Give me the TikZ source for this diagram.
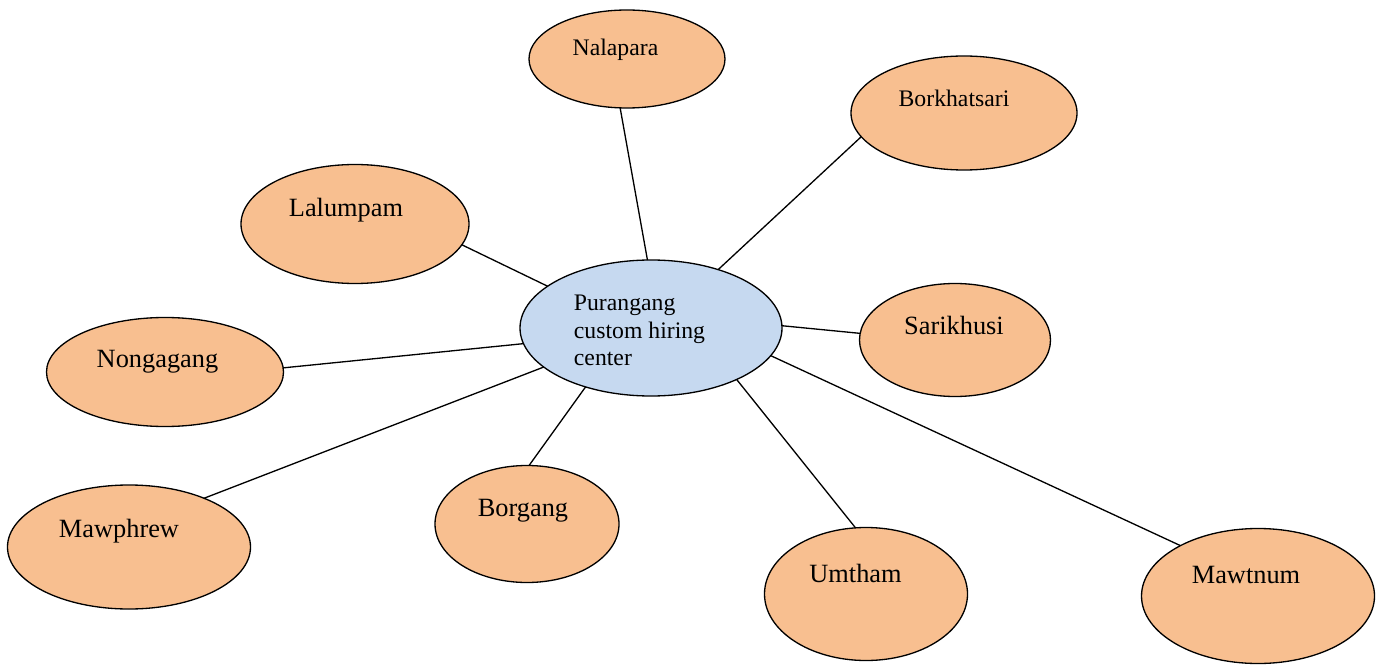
\documentclass[tikz,border=0pt]{standalone}
\usepackage{fontspec}
\setmainfont{Liberation Serif}
\usetikzlibrary{shapes.geometric}
\definecolor{peach}{HTML}{F8BF90}
\definecolor{sky}{HTML}{C6D9F0}
\begin{document}
\begin{tikzpicture}[place/.style={ellipse,draw=black,line width=.75pt,fill=peach,inner sep=0pt,outer sep=0pt},hub/.style={ellipse,draw=black,line width=.75pt,fill=sky,inner sep=0pt,outer sep=0pt,minimum width=5.24cm,minimum height=2.72cm},big/.style={font=\fontsize{15}{18}\selectfont},small/.style={font=\fontsize{13.5}{16}\selectfont},link/.style={line width=.75pt}]
 \useasboundingbox (0,0) rectangle (27.66,13.3);
 \node[hub,label={[small,align=left,font=\fontsize{13.5}{15.6}\selectfont,xshift=-.23cm,yshift=-.05cm]center:Purangang\\custom hiring\\center}] (hub) at (13.02,6.74) {};
 \node[place,minimum width=3.92cm,minimum height=1.96cm,label={[small,anchor=base,xshift=-.23cm,yshift=.18cm]center:Nalapara}] (nal) at (12.54,12.12) {};
 \node[place,minimum width=4.52cm,minimum height=2.28cm,label={[small,anchor=base,xshift=-.2cm,yshift=.3cm]center:Borkhatsari}] (bork) at (19.28,11.04) {};
 \node[place,minimum width=4.56cm,minimum height=2.38cm,label={[big,anchor=base,xshift=-.18cm,yshift=.28cm]center:Lalumpam}] (lal) at (7.1,8.82) {};
 \node[place,minimum width=3.82cm,minimum height=2.26cm,label={[big,anchor=base,xshift=-.02cm,yshift=.29cm]center:Sarikhusi}] (sari) at (19.1,6.5) {};
 \node[place,minimum width=4.74cm,minimum height=2.18cm,label={[big,anchor=base,xshift=-.15cm,yshift=.2cm]center:Nongagang}] (nong) at (3.3,5.86) {};
 \node[place,minimum width=4.86cm,minimum height=2.48cm,label={[big,anchor=base,xshift=-.2cm,yshift=.31cm]center:Mawphrew}] (mawp) at (2.58,2.36) {};
 \node[place,minimum width=3.68cm,minimum height=2.34cm,label={[big,anchor=base,xshift=-.08cm,yshift=.27cm]center:Borgang}] (borg) at (10.54,2.82) {};
 \node[place,minimum width=4.06cm,minimum height=2.66cm,label={[big,anchor=base,xshift=-.21cm,yshift=.41cm]center:Umtham}] (umt) at (17.32,1.42) {};
 \node[place,minimum width=4.66cm,minimum height=2.7cm,label={[big,anchor=base,xshift=-.24cm,yshift=.43cm]center:Mawtnum}] (mawt) at (25.16,1.38) {};
 % spokes from the hiring center
 \draw[link] (nal.-98) -- (hub.93);
 \draw[link] (bork.-167) -- (hub.41);
 \draw[link] (lal.-11) -- (hub.158);
 \draw[link] (sari.176) -- (hub.1);
 \draw[link] (nong.2) -- (hub.187);
 \draw[link] (mawp.33) -- (hub.200);
 \draw[link] (borg.88) -- (hub.222);
 \draw[link] (umt.99) -- (hub.-31);
 \draw[link] (mawt.147) -- (hub.-13);
\end{tikzpicture}
\end{document}
